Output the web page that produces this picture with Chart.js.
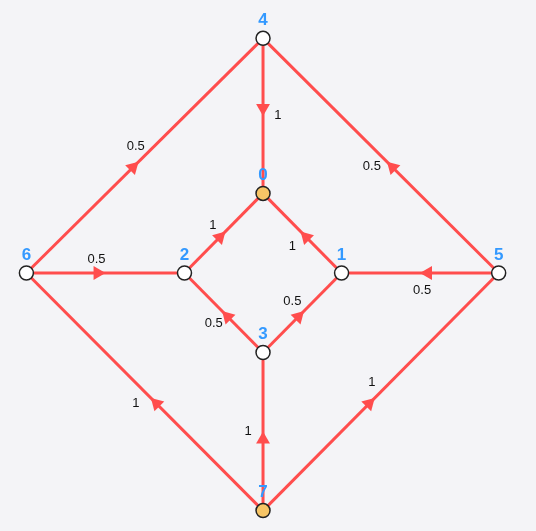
<!DOCTYPE html>
<html>
<head>
<meta charset="utf-8">
<script src="https://cdn.jsdelivr.net/npm/chart.js@4"></script>
<style>
  html, body { margin: 0; background: #f4f4f7; }
  #wrap { width: 536px; height: 531px; }
</style>
</head>
<body>
<div id="wrap"><canvas id="c"></canvas></div>
<script>
// Węzły grafu i krawędzie z wagami
const nodeIds = [0, 1, 2, 3, 4, 5, 6, 7];
const nodeX = [263, 342, 184, 263, 263, 500, 25, 263];
const nodeY = [193, 273, 273, 353, 37, 273, 273, 512];
const nodeFill = ["#f7c566", "#fff", "#fff", "#fff", "#fff", "#fff", "#fff", "#f7c566"];

const edgeFrom = [4, 6, 5, 2, 1, 6, 5, 3, 3, 7, 7, 7];
const edgeTo   = [0, 4, 4, 0, 0, 2, 1, 2, 1, 3, 6, 5];
const edgeWeight = ["1", "0.5", "0.5", "1", "1", "0.5", "0.5", "0.5", "0.5", "1", "1", "1"];
// przesunięcie etykiety wagi względem środka krawędzi
const labelDx = [15, -9, -9, -11, -10, -9, 2, -10, -10, -15, -9, -9];
const labelDy = [0, -9, 11, -8, 13, -14, 18, 11, -11, 0, 12, -9];

const RED = "#ff4d4d";
const T = 0.45;

const datasets = [];
edgeFrom.forEach((f, i) => {
  const t = edgeTo[i];
  datasets.push({
    type: "line", data: [{ x: nodeX[f], y: nodeY[f] }, { x: nodeX[t], y: nodeY[t] }],
    borderColor: RED, borderWidth: 3, pointRadius: 0, order: 3,
  });
});
// strzałki w pobliżu środka krawędzi
datasets.push({
  type: "scatter", order: 2,
  data: edgeFrom.map((f, i) => {
    const t = edgeTo[i];
    return { x: nodeX[f] + (nodeX[t] - nodeX[f]) * T, y: nodeY[f] + (nodeY[t] - nodeY[f]) * T };
  }),
  pointStyle: "triangle", pointRadius: 8, borderWidth: 0,
  backgroundColor: RED, borderColor: RED,
  rotation: edgeFrom.map((f, i) => {
    const t = edgeTo[i];
    return Math.atan2(nodeY[t] - nodeY[f], nodeX[t] - nodeX[f]) * 180 / Math.PI + 90;
  }),
});
datasets.push({
  type: "scatter", order: 1,
  data: nodeIds.map((n) => ({ x: nodeX[n], y: nodeY[n] })),
  pointRadius: 7, borderWidth: 1.5, borderColor: "#222", backgroundColor: nodeFill,
});

const labels = {
  id: "labels",
  afterDatasetsDraw(chart) {
    const { ctx, scales: { x, y } } = chart;
    ctx.save();
    ctx.textAlign = "center"; ctx.textBaseline = "middle";
    ctx.font = "13px 'Liberation Sans', Arial, sans-serif";
    ctx.fillStyle = "#111";
    edgeFrom.forEach((f, i) => {
      const t = edgeTo[i];
      const mx = (nodeX[f] + nodeX[t]) / 2 + labelDx[i];
      const my = (nodeY[f] + nodeY[t]) / 2 + labelDy[i];
      ctx.fillText(edgeWeight[i], x.getPixelForValue(mx), y.getPixelForValue(my));
    });
    ctx.font = "bold 17px 'Liberation Sans', Arial, sans-serif";
    ctx.fillStyle = "#3399ff";
    nodeIds.forEach((n) => {
      ctx.fillText(String(n), x.getPixelForValue(nodeX[n]), y.getPixelForValue(nodeY[n] - 18));
    });
    ctx.restore();
  },
};

new Chart(document.getElementById("c"), {
  data: { datasets },
  options: {
    responsive: true, maintainAspectRatio: false, animation: false,
    layout: { padding: 0 },
    plugins: { legend: { display: false }, tooltip: { enabled: false } },
    scales: {
      x: { type: "linear", min: 7, max: 529, display: false },
      y: { type: "linear", min: 7, max: 524, reverse: true, display: false },
    },
  },
  plugins: [labels],
});
</script>
</body>
</html>
